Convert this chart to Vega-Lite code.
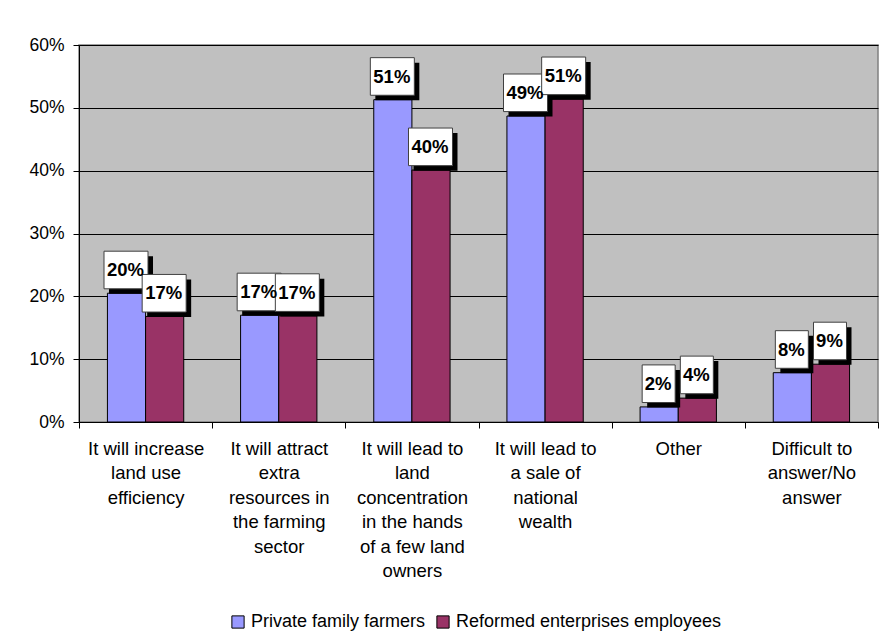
{
  "$schema": "https://vega.github.io/schema/vega-lite/v6.json",
  "width": 799,
  "height": 377,
  "autosize": "none",
  "padding": {"left": 79, "top": 45, "right": 1, "bottom": 213},
  "background": "white",
  "config": {
    "font": "Liberation Sans",
    "view": {"fill": "#C0C0C0", "stroke": "#808080", "strokeWidth": 1.5},
    "axis": {"labelFont": "Liberation Sans", "labelColor": "black", "domainColor": "black", "tickColor": "black", "titleFont": "Liberation Sans"}
  },
  "data": {
    "values": [
      {"category": "It will increase\nland use\nefficiency", "series": "Private family farmers", "value": 0.205, "label": "20%"},
      {"category": "It will increase\nland use\nefficiency", "series": "Reformed enterprises employees", "value": 0.168, "label": "17%"},
      {"category": "It will attract\nextra\nresources in\nthe farming\nsector", "series": "Private family farmers", "value": 0.170, "label": "17%"},
      {"category": "It will attract\nextra\nresources in\nthe farming\nsector", "series": "Reformed enterprises employees", "value": 0.169, "label": "17%"},
      {"category": "It will lead to\nland\nconcentration\nin the hands\nof a few land\nowners", "series": "Private family farmers", "value": 0.513, "label": "51%"},
      {"category": "It will lead to\nland\nconcentration\nin the hands\nof a few land\nowners", "series": "Reformed enterprises employees", "value": 0.401, "label": "40%"},
      {"category": "It will lead to\na sale of\nnational\nwealth", "series": "Private family farmers", "value": 0.487, "label": "49%"},
      {"category": "It will lead to\na sale of\nnational\nwealth", "series": "Reformed enterprises employees", "value": 0.514, "label": "51%"},
      {"category": "Other", "series": "Private family farmers", "value": 0.024, "label": "2%"},
      {"category": "Other", "series": "Reformed enterprises employees", "value": 0.038, "label": "4%"},
      {"category": "Difficult to\nanswer/No\nanswer", "series": "Private family farmers", "value": 0.0785, "label": "8%"},
      {"category": "Difficult to\nanswer/No\nanswer", "series": "Reformed enterprises employees", "value": 0.092, "label": "9%"}
    ]
  },
  "encoding": {
    "x": {
      "field": "category", "type": "nominal", "sort": null, "title": null,
      "scale": {"paddingInner": 0, "paddingOuter": 0},
      "axis": {
        "labelAngle": 0, "labelFontSize": 18.5, "labelLineHeight": 24.5,
        "labelExpr": "split(datum.label, '\\n')",
        "labelPadding": 11, "labelBaseline": "top",
        "tickBand": "extent", "tickSize": 6, "tickColor": "black",
        "domainColor": "black", "labelLimit": 200
      }
    },
    "xOffset": {"field": "series", "type": "nominal", "sort": null, "scale": {"paddingOuter": 0.745, "paddingInner": 0}},
    "y": {
      "field": "value", "type": "quantitative", "title": null,
      "scale": {"domain": [0, 0.6], "nice": false},
      "axis": {
        "values": [0, 0.1, 0.2, 0.3, 0.4, 0.5, 0.6], "format": ".0%",
        "labelFontSize": 17.5, "labelPadding": 9, "tickSize": 6,
        "grid": true, "gridColor": "black", "gridWidth": 1,
        "domainColor": "black"
      }
    }
  },
  "layer": [
    {
      "mark": {"type": "bar", "stroke": "black", "strokeWidth": 1},
      "encoding": {
        "color": {
          "field": "series", "type": "nominal", "sort": null,
          "scale": {"domain": ["Private family farmers", "Reformed enterprises employees"], "range": ["#9999FF", "#993366"]},
          "legend": {
            "title": null, "orient": "none", "direction": "horizontal",
            "legendX": 150, "legendY": 568,
            "symbolType": "square", "symbolSize": 150, "symbolStrokeColor": "black",
            "symbolStrokeWidth": 1, "symbolOpacity": 1,
            "labelFontSize": 18, "labelFont": "Liberation Sans", "labelColor": "black",
            "labelOffset": 4, "columnPadding": 8, "labelLimit": 400
          }
        }
      }
    },
    {
      "mark": {"type": "point", "filled": true, "fill": "black", "strokeWidth": 0, "opacity": 1, "size": 1600},
      "encoding": {
        "shape": {
          "condition": {"test": "datum.value < 0.095", "value": "M-0.6,-1.85L1.05,-1.85L1.05,0.03L-0.6,0.03Z"},
          "value": "M-0.875,-1.85L1.325,-1.85L1.325,0.03L-0.875,0.03Z"
        }
      }
    },
    {
      "mark": {"type": "point", "filled": true, "fill": "white", "stroke": "#404040", "strokeWidth": 1, "opacity": 1, "size": 1600},
      "encoding": {
        "shape": {
          "condition": {"test": "datum.value < 0.095", "value": "M-0.85,-2.1L0.8,-2.1L0.8,-0.22L-0.85,-0.22Z"},
          "value": "M-1.125,-2.1L1.075,-2.1L1.075,-0.22L-1.125,-0.22Z"
        }
      }
    },
    {
      "mark": {"type": "text", "font": "Liberation Sans", "fontWeight": "bold", "fontSize": 18.5, "baseline": "middle", "align": "center", "dy": -23, "dx": -1, "color": "black"},
      "encoding": {"text": {"field": "label"}}
    }
  ]
}
